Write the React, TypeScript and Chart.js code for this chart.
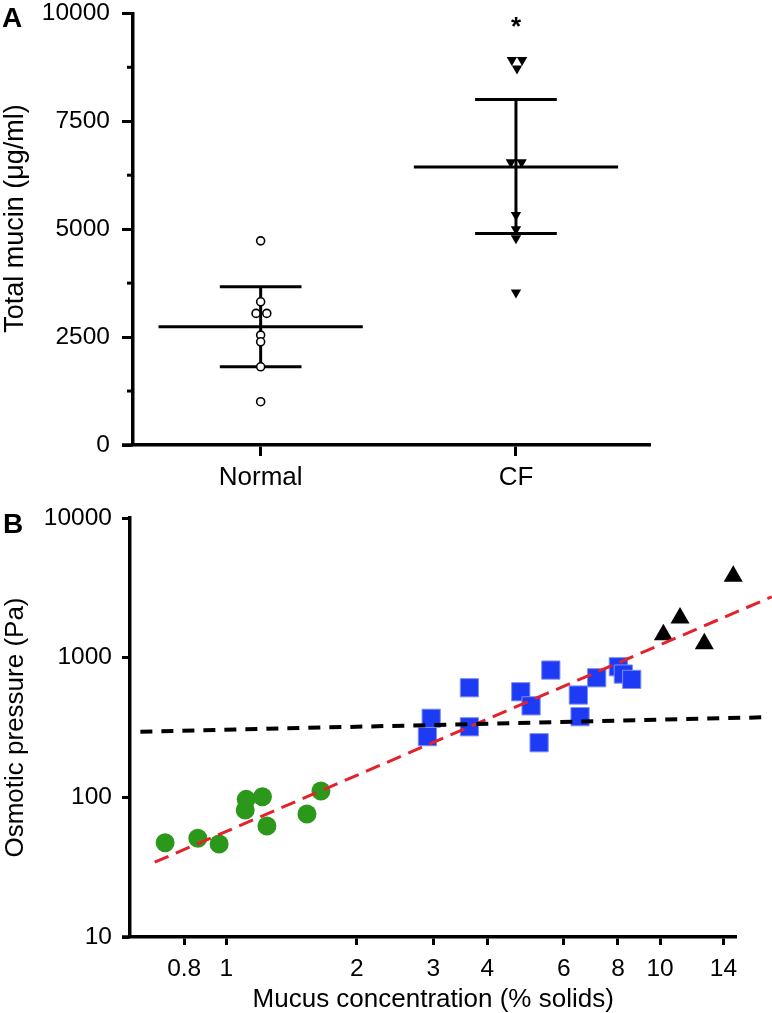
import React, { useEffect, useRef } from 'react';
import { Chart, registerables } from 'chart.js';

Chart.register(...registerables);

// ---------- Panel A data ----------
const groupLabels = ['Normal', 'CF'];
const normalX = [0, 0, -0.018, 0.024, 0, 0, 0, 0];
const normalMucin = [4729, 3317, 3048, 3048, 2546, 2391, 1812, 1003];
const cfX = [0.984, 1.024, 1.004, 0.98, 1.022, 1.0, 1.0, 1.0, 1.0];
const cfMucin = [8921, 8921, 8722, 6550, 6550, 5330, 5000, 4792, 3535];
// mean, lower (mean - SD), upper (mean + SD)
const normalStats = [2739, 1812, 3665];
const cfStats = [6442, 4900, 8002];
const yTicksA = [0, 2500, 5000, 7500, 10000];
const yMinorA = [1250, 3750, 6250, 8750];

// ---------- Panel B data ----------
const lowX = [0.723, 0.86, 0.963, 1.112, 1.106, 1.212, 1.241, 1.535, 1.653];
const lowP = [47.3, 50.9, 46.3, 96.7, 81.1, 101, 62.3, 75.9, 111];
const midX = [2.968, 2.909, 3.636, 3.636, 4.775, 5.044, 5.263, 5.601, 6.482, 6.541, 7.146, 8.015, 8.23, 8.606];
const midP = [368, 272, 609, 320, 570, 452, 246, 815, 540, 378, 718, 861, 763, 699];
const highX = [10.18, 11.12, 12.65, 14.75];
const highP = [1461, 1923, 1259, 3825];
const fitX = [0.684, 18.1];
const fitP = [34.3, 2729];
const refX = [0.634, 17.15];
const refP = [294.8, 373.9];
const xTicksB = [0.8, 1, 2, 3, 4, 6, 8, 10, 14];
const yTicksB = [10, 100, 1000, 10000];

const FAMILY = "'Liberation Sans', Arial, Helvetica, sans-serif";
const W = 772;
const HA = 495;
const HB = 518;

function noPad(s: any) {
  s.paddingTop = 0;
  s.paddingBottom = 0;
  s.paddingLeft = 0;
  s.paddingRight = 0;
}

function statDatasets(center: number, stats: number[]) {
  const [mean, lo, hi] = stats;
  const base = {
    showLine: true,
    pointRadius: 0,
    borderColor: '#000',
    borderWidth: 3,
    fill: false,
    clip: false,
  };
  return [
    { ...base, data: [{ x: center - 0.4, y: mean }, { x: center + 0.4, y: mean }] },
    { ...base, data: [{ x: center - 0.16, y: hi }, { x: center + 0.16, y: hi }] },
    { ...base, data: [{ x: center - 0.16, y: lo }, { x: center + 0.16, y: lo }] },
    { ...base, data: [{ x: center, y: lo }, { x: center, y: hi }] },
  ];
}

const decorA = {
  id: 'decorA',
  afterDraw(chart: any) {
    const { ctx, chartArea, scales } = chart;
    ctx.save();
    ctx.strokeStyle = '#000';
    ctx.fillStyle = '#000';
    // minor ticks
    ctx.lineWidth = 3;
    yMinorA.forEach((v) => {
      const py = scales.y.getPixelForValue(v);
      ctx.beginPath();
      ctx.moveTo(chartArea.left - 6, py);
      ctx.lineTo(chartArea.left, py);
      ctx.stroke();
    });
    // x-axis extension to the left
    ctx.lineWidth = 3.5;
    ctx.beginPath();
    ctx.moveTo(chartArea.left - 11, chartArea.bottom);
    ctx.lineTo(chartArea.left, chartArea.bottom);
    ctx.stroke();
    // y-axis title
    ctx.save();
    ctx.translate(16, 218.5);
    ctx.rotate(-Math.PI / 2);
    ctx.font = `27px ${FAMILY}`;
    ctx.textAlign = 'center';
    ctx.textBaseline = 'middle';
    ctx.fillText('Total mucin (μg/ml)', 0, 0);
    ctx.restore();
    // panel letter
    ctx.font = `bold 28px ${FAMILY}`;
    ctx.textAlign = 'left';
    ctx.textBaseline = 'alphabetic';
    ctx.fillText('A', 2, 27);
    // significance star
    ctx.font = `bold 26px ${FAMILY}`;
    ctx.textAlign = 'center';
    ctx.fillText('*', scales.x.getPixelForValue(1), 35);
    ctx.restore();
  },
};

const decorB = {
  id: 'decorB',
  afterDraw(chart: any) {
    const { ctx, chartArea } = chart;
    ctx.save();
    ctx.strokeStyle = '#000';
    ctx.fillStyle = '#000';
    ctx.lineWidth = 3.5;
    ctx.beginPath();
    ctx.moveTo(chartArea.left - 8, chartArea.bottom);
    ctx.lineTo(chartArea.left, chartArea.bottom);
    ctx.stroke();
    ctx.font = `bold 28px ${FAMILY}`;
    ctx.textAlign = 'left';
    ctx.textBaseline = 'alphabetic';
    ctx.fillText('B', 3, 38);
    ctx.restore();
  },
};

function PanelA() {
  const ref = useRef<HTMLCanvasElement | null>(null);
  useEffect(() => {
    if (!ref.current) return;
    const chart = new Chart(ref.current, {
      type: 'scatter',
      data: {
        datasets: [
          {
            data: normalMucin.map((y, i) => ({ x: normalX[i], y })),
            pointStyle: 'circle',
            pointRadius: 4,
            borderWidth: 1.6,
            borderColor: '#000',
            backgroundColor: '#fff',
            clip: false,
          },
          {
            data: cfMucin.map((y, i) => ({ x: cfX[i], y })),
            pointStyle: 'triangle',
            rotation: 180,
            pointRadius: 6,
            borderWidth: 0,
            borderColor: '#000',
            backgroundColor: '#000',
            clip: false,
          },
          ...statDatasets(0, normalStats),
          ...statDatasets(1, cfStats),
        ] as any,
      },
      options: {
        animation: false,
        responsive: false,
        devicePixelRatio: 1,
        layout: { autoPadding: false, padding: { top: 13.3, right: W - 650, bottom: 0, left: 0 } },
        plugins: { legend: { display: false }, tooltip: { enabled: false } },
        scales: {
          x: {
            type: 'linear',
            min: -0.5,
            max: 1.525,
            afterFit: (s: any) => { s.height = HA - 445; noPad(s); },
            afterBuildTicks: (s: any) => { s.ticks = [{ value: 0 }, { value: 1 }]; },
            ticks: {
              callback: (v: any) => groupLabels[v] ?? '',
              font: { family: FAMILY, size: 26 },
              color: '#000',
              padding: 6,
              autoSkip: false,
              maxRotation: 0,
            },
            grid: { display: true, drawOnChartArea: false, drawTicks: true, tickLength: 11, tickWidth: 3, tickColor: '#000' },
            border: { display: true, width: 3.5, color: '#000' },
          },
          y: {
            type: 'linear',
            min: 0,
            max: 10000,
            afterFit: (s: any) => { s.width = 133; noPad(s); },
            afterBuildTicks: (s: any) => { s.ticks = yTicksA.map((v) => ({ value: v })); },
            ticks: {
              callback: (v: any) => String(v),
              font: { family: FAMILY, size: 24.5, lineHeight: 1 },
              color: '#000',
              padding: 12,
            },
            grid: { display: true, drawOnChartArea: false, drawTicks: true, tickLength: 11, tickWidth: 3, tickColor: '#000' },
            border: { display: true, width: 3.5, color: '#000' },
          },
        },
      } as any,
      plugins: [decorA],
    });
    return () => chart.destroy();
  }, []);
  return <canvas ref={ref} width={W} height={HA} style={{ position: 'absolute', left: 0, top: 0, width: W, height: HA }} />;
}

function PanelB() {
  const ref = useRef<HTMLCanvasElement | null>(null);
  useEffect(() => {
    if (!ref.current) return;
    const chart = new Chart(ref.current, {
      type: 'scatter',
      data: {
        datasets: [
          {
            data: refX.map((x, i) => ({ x, y: refP[i] })),
            showLine: true,
            pointRadius: 0,
            borderColor: '#000',
            borderWidth: 4,
            borderDash: [12, 9],
            clip: false,
          },
          {
            data: fitX.map((x, i) => ({ x, y: fitP[i] })),
            showLine: true,
            pointRadius: 0,
            borderColor: '#e3222b',
            borderWidth: 3,
            borderDash: [15, 8],
            clip: false,
          },
          {
            data: highX.map((x, i) => ({ x, y: highP[i] })),
            pointStyle: 'triangle',
            pointRadius: 11,
            borderWidth: 0,
            backgroundColor: '#000',
            borderColor: '#000',
            clip: false,
          },
          {
            data: midX.map((x, i) => ({ x, y: midP[i] })),
            pointStyle: 'rect',
            pointRadius: 12.9,
            borderWidth: 1,
            backgroundColor: '#1d3af5',
            borderColor: '#7f90f2',
            clip: false,
          },
          {
            data: lowX.map((x, i) => ({ x, y: lowP[i] })),
            pointStyle: 'circle',
            pointRadius: 9.5,
            borderWidth: 0,
            backgroundColor: '#2b971b',
            borderColor: '#2b971b',
            clip: false,
          },
        ] as any,
      },
      options: {
        animation: false,
        responsive: false,
        devicePixelRatio: 1,
        layout: { autoPadding: false, padding: { top: 23, right: W - 736.4, bottom: 0, left: 0 } },
        plugins: { legend: { display: false }, tooltip: { enabled: false } },
        scales: {
          x: {
            type: 'logarithmic',
            min: 0.6,
            max: 15,
            afterFit: (s: any) => { s.height = HB - 442; noPad(s); },
            afterBuildTicks: (s: any) => { s.ticks = xTicksB.map((v) => ({ value: v })); },
            ticks: {
              callback: (v: any) => String(v),
              font: { family: FAMILY, size: 24.5 },
              color: '#000',
              padding: 10,
              autoSkip: false,
              maxRotation: 0,
            },
            grid: { display: true, drawOnChartArea: false, drawTicks: true, tickLength: 8, tickWidth: 3, tickColor: '#000' },
            border: { display: true, width: 3.5, color: '#000' },
            title: {
              display: true,
              text: 'Mucus concentration (% solids)',
              font: { family: FAMILY, size: 26, lineHeight: 1 },
              color: '#000',
              padding: { top: 0, bottom: 0 },
            },
          },
          y: {
            type: 'logarithmic',
            min: 10,
            max: 10000,
            afterFit: (s: any) => { s.width = 130; noPad(s); },
            afterBuildTicks: (s: any) => { s.ticks = yTicksB.map((v) => ({ value: v })); },
            ticks: {
              callback: (v: any) => String(v),
              font: { family: FAMILY, size: 24.5, lineHeight: 1 },
              color: '#000',
              padding: 10,
            },
            grid: { display: true, drawOnChartArea: false, drawTicks: true, tickLength: 8, tickWidth: 3, tickColor: '#000' },
            border: { display: true, width: 3.5, color: '#000' },
            title: {
              display: true,
              text: 'Osmotic pressure (Pa)',
              font: { family: FAMILY, size: 26, lineHeight: 1 },
              color: '#000',
              padding: { top: 3, bottom: 0 },
            },
          },
        },
      } as any,
      plugins: [decorB],
    });
    return () => chart.destroy();
  }, []);
  return <canvas ref={ref} width={W} height={HB} style={{ position: 'absolute', left: 0, top: HA, width: W, height: HB }} />;
}

export default function App() {
  return (
    <div style={{ position: 'absolute', left: 0, top: 0, width: W, height: HA + HB, background: '#fff', overflow: 'hidden' }}>
      <PanelA />
      <PanelB />
    </div>
  );
}
